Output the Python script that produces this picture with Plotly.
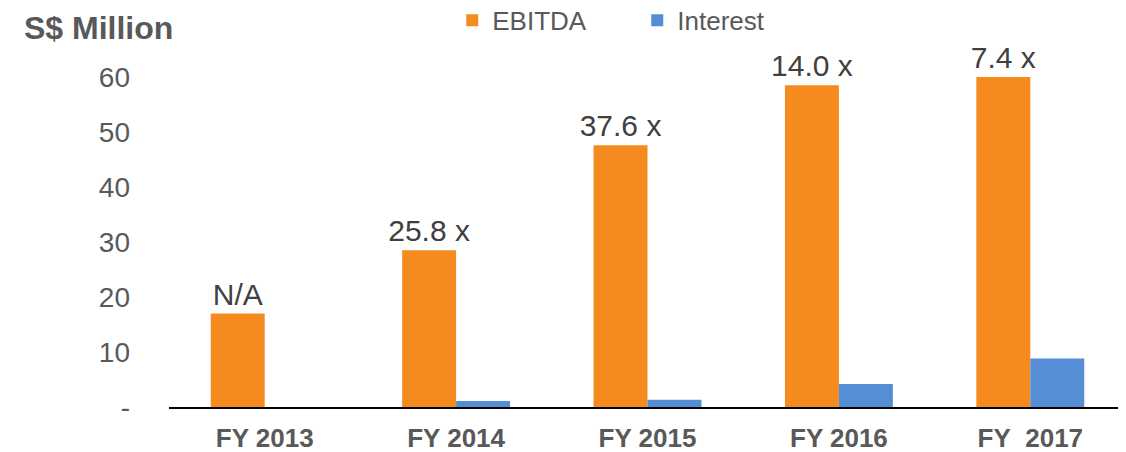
import plotly.graph_objects as go

categories = ["FY 2013", "FY 2014", "FY 2015", "FY 2016", "FY\u00a0 2017"]
ebitda = [17.0, 28.5, 47.6, 58.5, 60.0]
interest = [0.0, 1.1, 1.3, 4.2, 8.8]
coverage_labels = ["N/A", "25.8 x", "37.6 x", "14.0 x", "7.4 x"]
y_tickvals = [0, 10, 20, 30, 40, 50, 60]
y_ticktext = ["-", "10", "20", "30", "40", "50", "60"]

FONT = "Liberation Sans, Arial, sans-serif"
GREY = "#595959"

# the page body adds an 8px offset; figure sized to fit the 1126x452 window
W, H = 1118, 444

fig = go.Figure()
fig.add_trace(go.Bar(
    name="EBITDA", x=categories, y=ebitda, marker_color="#F58B1F",
    marker_line_width=0,
    text=coverage_labels, textposition="outside", constraintext="none",
    textfont=dict(family=FONT, size=30, color="#404040"), cliponaxis=False,
))
fig.add_trace(go.Bar(
    name="Interest", x=categories, y=interest, marker_color="#558ED5",
    marker_line_width=0, cliponaxis=False,
))

fig.update_layout(
    width=W, height=H,
    margin=dict(l=161, r=0, t=69, b=45, autoexpand=False),
    plot_bgcolor="white", paper_bgcolor="white",
    barmode="group", bargap=0.436, bargroupgap=0,
    font=dict(family=FONT, color=GREY, size=26),
    showlegend=True,
    legend=dict(orientation="h", x=0.296, xanchor="left",
                y=1.243, yanchor="top",
                font=dict(size=26, color=GREY), entrywidth=140,
                bgcolor="rgba(0,0,0,0)", itemclick=False),
    title=dict(text="<b>S$ Million</b>", x=16/W, xanchor="left", y=1-20/H,
               yanchor="middle", font=dict(size=32, color=GREY, family=FONT)),
)
fig.update_xaxes(
    showline=True, linecolor="black", linewidth=2, showgrid=False,
    tickfont=dict(size=26, color=GREY, family=FONT), ticks="",
    ticklabelstandoff=7,
)
fig.update_xaxes(tickvals=categories, ticktext=["<b>%s</b>" % c for c in categories])
fig.update_yaxes(
    range=[0, 60], showgrid=False, showline=False, zeroline=False,
    tickvals=y_tickvals, ticktext=y_ticktext,
    tickfont=dict(size=28, color=GREY, family=FONT), ticklabelstandoff=38,
)

fig.write_html("out.html")
